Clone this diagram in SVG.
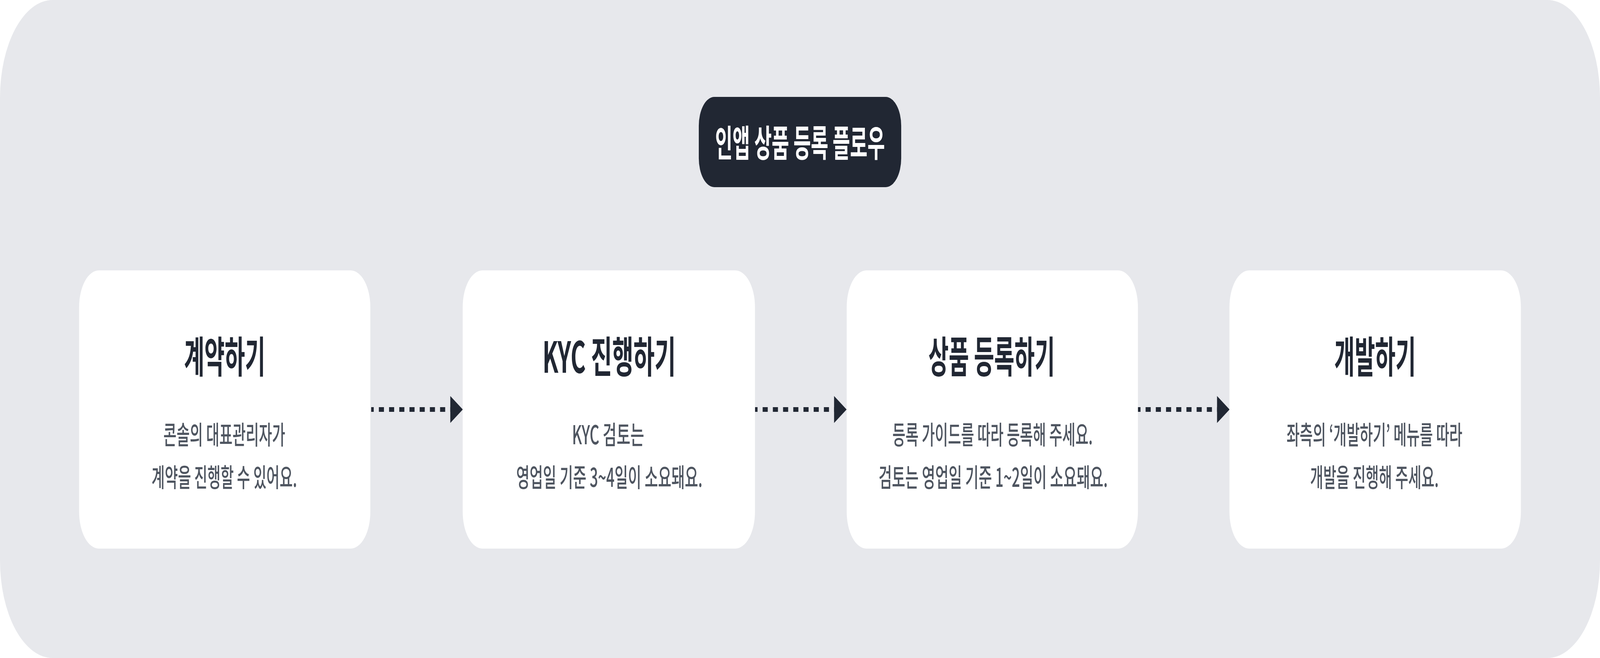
<svg xmlns="http://www.w3.org/2000/svg" width="7604" height="1684" viewBox="0 0 7604 1684" preserveAspectRatio="none">
  <style>
    svg:root { width: 100vw; height: 100vh; }
    .panel { fill: #E7E8EC; }
    .node { fill: #FFFFFF; }
    .pill { fill: #212733; }
    .pilltext { font-family: "Noto Sans CJK KR", "Noto Sans", sans-serif; font-size: 94px; font-weight: 700; fill: #FFFFFF; text-anchor: middle; }
    .title { font-family: "Noto Sans CJK KR", "Noto Sans", sans-serif; font-size: 110px; font-weight: 700; fill: #212733; text-anchor: middle; }
    .desc { font-family: "Noto Sans CJK KR", "Noto Sans", sans-serif; font-size: 66px; font-weight: 500; fill: #4E5560; text-anchor: middle; }
    .edge { fill: none; stroke: #212733; stroke-width: 12; stroke-dasharray: 24.25 24.25; stroke-dashoffset: 12; }
    .head { fill: #212733; }
  </style>
  <rect x="0" y="0" width="7604" height="1684" fill="#FFFFFF"/>
  <rect class="panel" x="0" y="0" width="7604" height="1684" rx="250" ry="250"/>

  <g id="header">
    <rect class="pill" x="3321" y="248" width="962" height="231" rx="74" ry="74"/>
    <text class="pilltext" x="3802" y="401" textLength="807" lengthAdjust="spacingAndGlyphs">인앱 상품 등록 플로우</text>
  </g>

  <g id="connectors">
    <g id="edge-1">
      <line class="edge" x1="1764" y1="1048" x2="2142" y2="1048"/>
      <polygon class="head" points="2140,1013.5 2199.5,1048 2140,1082.5"/>
    </g>
    <g id="edge-2">
      <line class="edge" x1="3588" y1="1048" x2="3966" y2="1048"/>
      <polygon class="head" points="3964,1013.5 4023.5,1048 3964,1082.5"/>
    </g>
    <g id="edge-3">
      <line class="edge" x1="5408" y1="1048" x2="5786" y2="1048"/>
      <polygon class="head" points="5784,1013.5 5843.5,1048 5784,1082.5"/>
    </g>
  </g>

  <g id="node-contract">
    <rect class="node" x="376" y="692" width="1384" height="712" rx="94" ry="94"/>
    <text class="title" x="1068" y="954" textLength="386" lengthAdjust="spacingAndGlyphs">계약하기</text>
    <text class="desc" x="1066" y="1137" textLength="579" lengthAdjust="spacingAndGlyphs">콘솔의 대표관리자가</text>
    <text class="desc" x="1066" y="1246" textLength="691" lengthAdjust="spacingAndGlyphs">계약을 진행할 수 있어요.</text>
  </g>

  <g id="node-kyc">
    <rect class="node" x="2199" y="692" width="1389" height="712" rx="94" ry="94"/>
    <text class="title" x="2895" y="954" textLength="634" lengthAdjust="spacingAndGlyphs">KYC 진행하기</text>
    <text class="desc" x="2890" y="1137" textLength="343" lengthAdjust="spacingAndGlyphs">KYC 검토는</text>
    <text class="desc" x="2896" y="1246" textLength="885" lengthAdjust="spacingAndGlyphs">영업일 기준 3~4일이 소요돼요.</text>
  </g>

  <g id="node-register">
    <rect class="node" x="4024" y="692" width="1384" height="712" rx="94" ry="94"/>
    <text class="title" x="4713" y="954" textLength="601" lengthAdjust="spacingAndGlyphs">상품 등록하기</text>
    <text class="desc" x="4717" y="1137" textLength="952" lengthAdjust="spacingAndGlyphs">등록 가이드를 따라 등록해 주세요.</text>
    <text class="desc" x="4720" y="1246" textLength="1089" lengthAdjust="spacingAndGlyphs">검토는 영업일 기준 1~2일이 소요돼요.</text>
  </g>

  <g id="node-develop">
    <rect class="node" x="5843" y="692" width="1385" height="712" rx="94" ry="94"/>
    <text class="title" x="6535" y="954" textLength="388" lengthAdjust="spacingAndGlyphs">개발하기</text>
    <text class="desc" x="6532" y="1137" textLength="836" lengthAdjust="spacingAndGlyphs">좌측의 ‘개발하기’ 메뉴를 따라</text>
    <text class="desc" x="6532" y="1246" textLength="611" lengthAdjust="spacingAndGlyphs">개발을 진행해 주세요.</text>
  </g>
</svg>
